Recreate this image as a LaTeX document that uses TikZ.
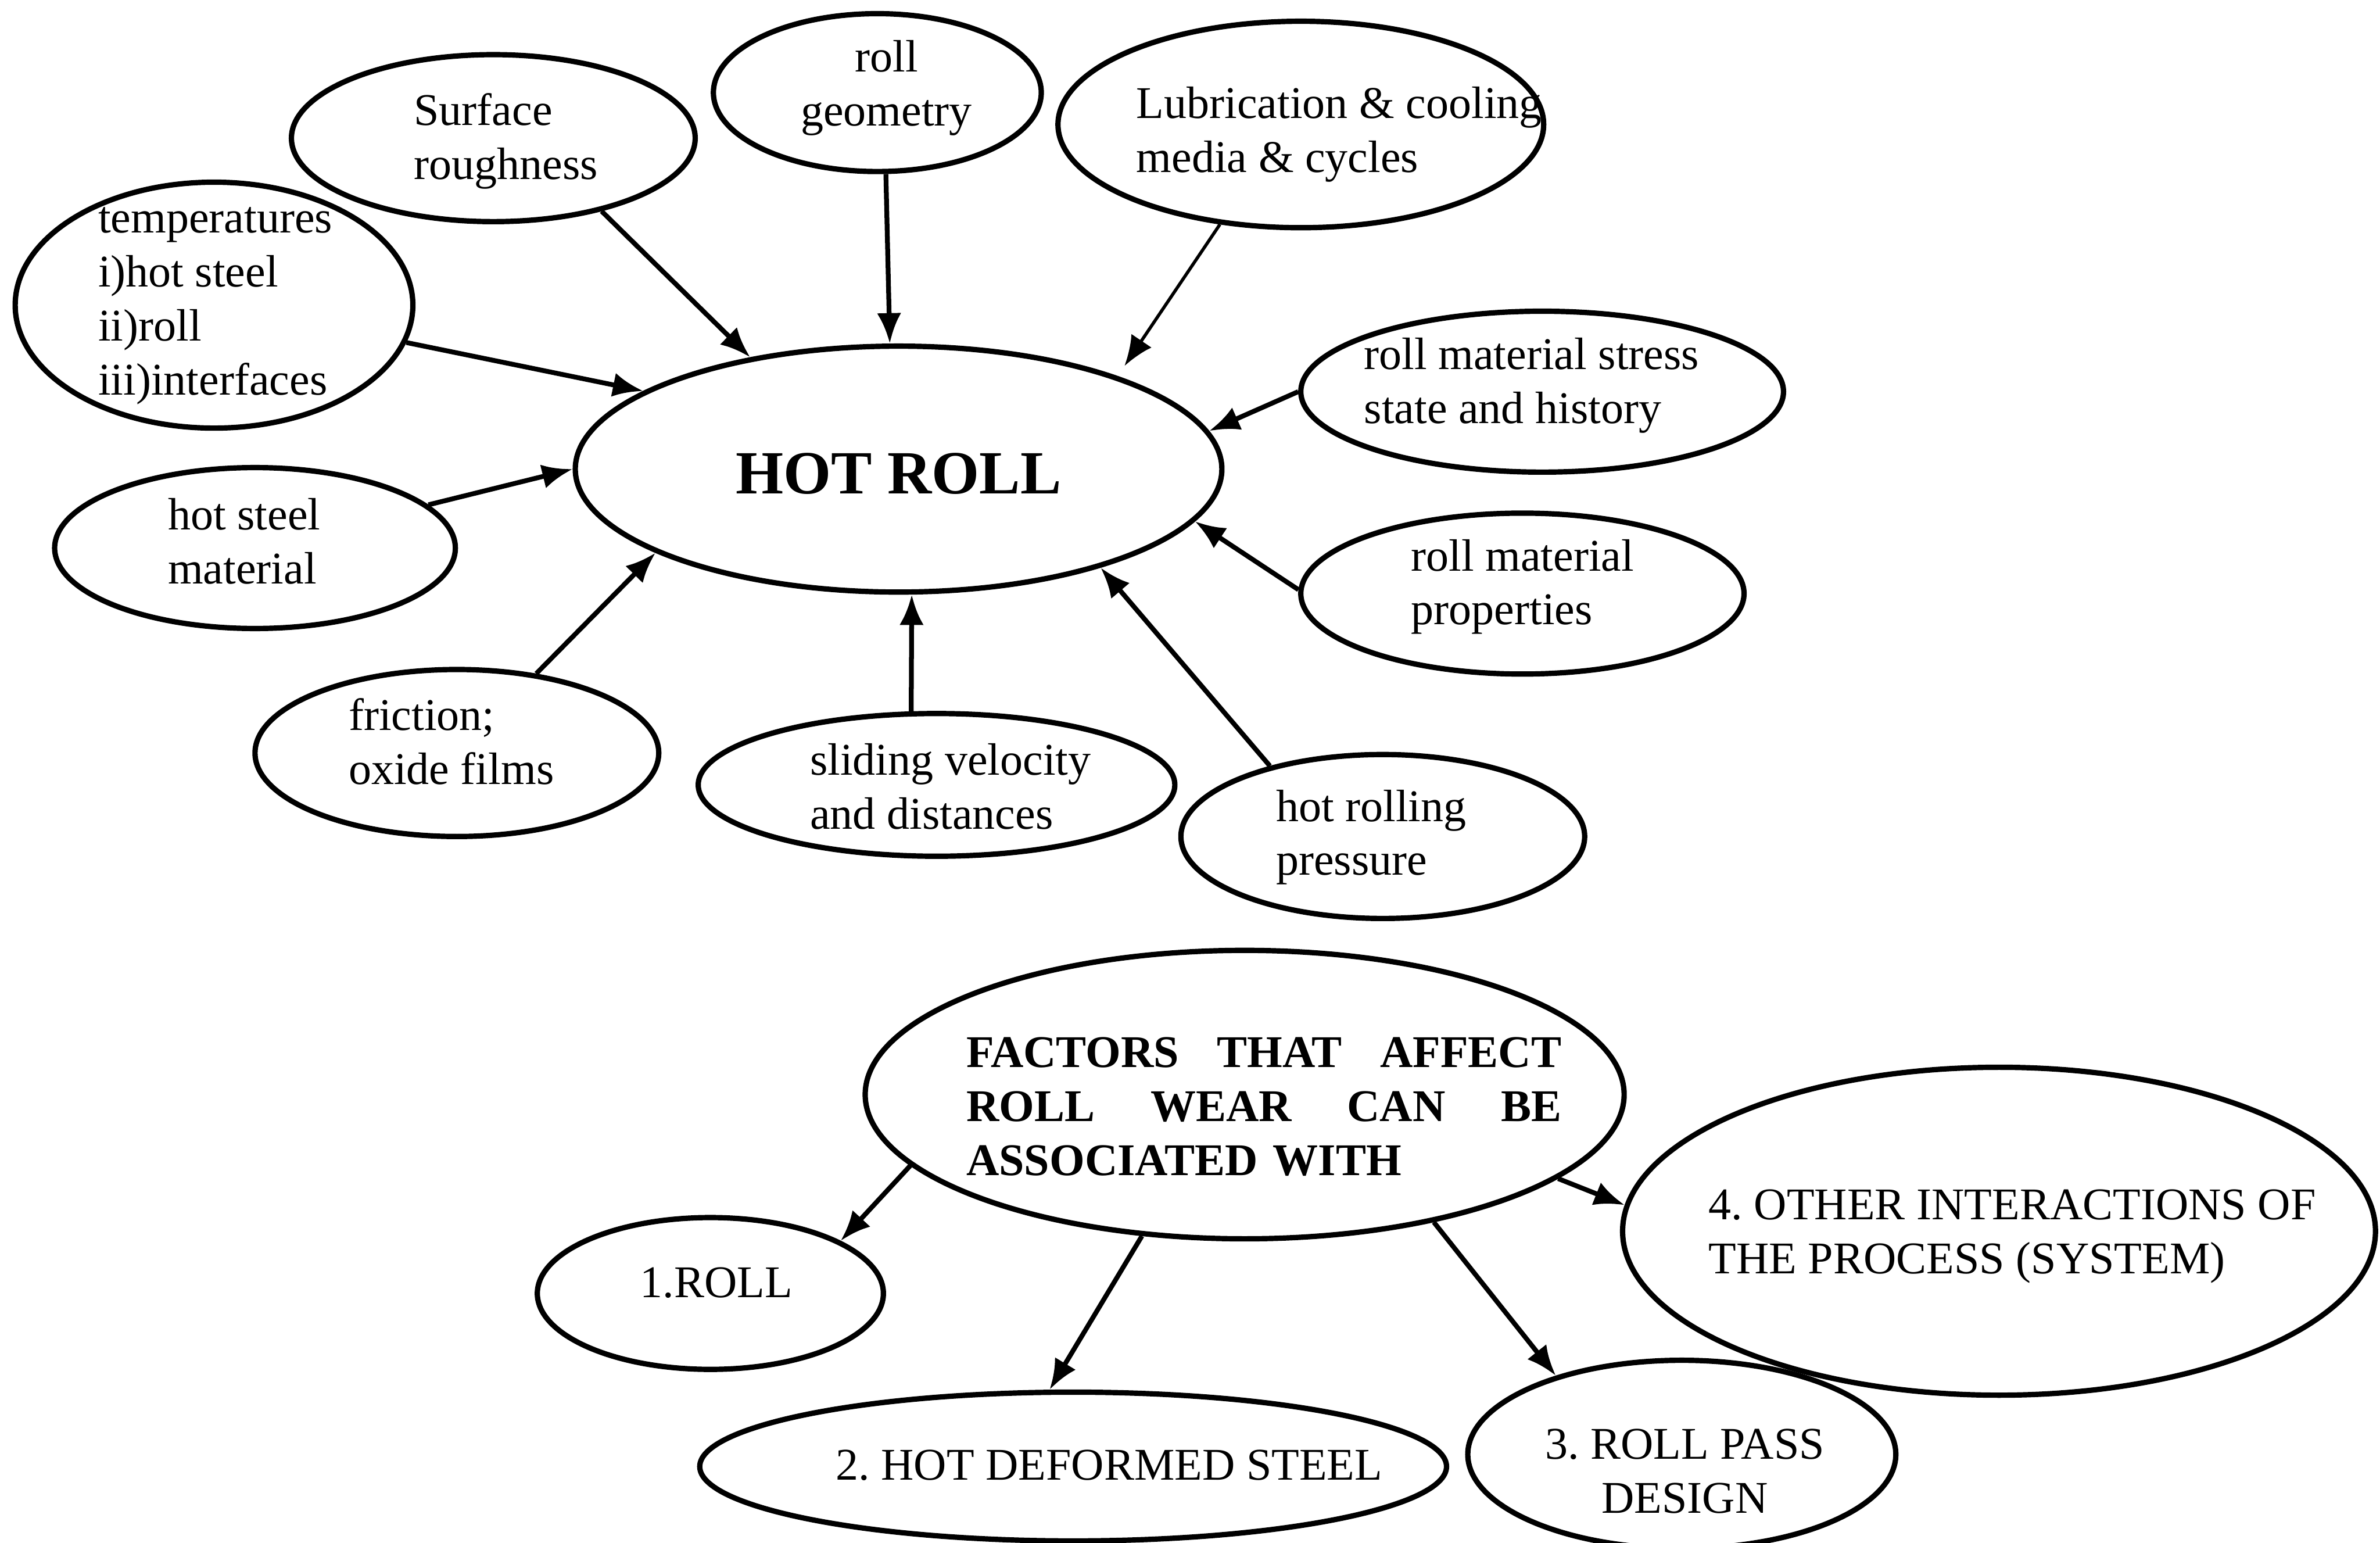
\documentclass[tikz,border=0pt]{standalone}
\usepackage{fontspec}
\setmainfont{Liberation Serif}
\usetikzlibrary{shapes.geometric, arrows.meta, positioning}

\begin{document}
\frenchspacing
\begin{tikzpicture}[font=\fontsize{8.5}{10.1}\selectfont]
    % 定义样式
    \tikzstyle{oval} = [ellipse, draw, line width=1pt, inner sep=0pt, align=center]
    \tikzstyle{txt} = [inner sep=0pt, align=left, anchor=west]
    \tikzstyle{arrow} = [line width=0.9pt, -{Latex[length=2mm,width=1.6mm]}]

    \path[use as bounding box, fill=white] (0,0) rectangle (15.68,10.16);

    % 上图: 椭圆
    \node (hot) [oval, minimum width=4.26cm, minimum height=1.62cm] at (5.92,7.07) {};
    \node (sr) [oval, minimum width=2.66cm, minimum height=1.10cm] at (3.25,9.25) {};
    \node (rg) [oval, minimum width=2.16cm, minimum height=1.04cm] at (5.78,9.55) {};
    \node (lub) [oval, minimum width=3.20cm, minimum height=1.36cm] at (8.57,9.34) {};
    \node (temp) [oval, minimum width=2.62cm, minimum height=1.62cm] at (1.41,8.15) {};
    \node (hsm) [oval, minimum width=2.64cm, minimum height=1.06cm] at (1.68,6.55) {};
    \node (fric) [oval, minimum width=2.66cm, minimum height=1.10cm] at (3.01,5.20) {};
    \node (slid) [oval, minimum width=3.14cm, minimum height=0.94cm] at (6.17,4.99) {};
    \node (hrp) [oval, minimum width=2.66cm, minimum height=1.08cm] at (9.11,4.65) {};
    \node (rmp) [oval, minimum width=2.92cm, minimum height=1.06cm] at (10.03,6.25) {};
    \node (rms) [oval, minimum width=3.18cm, minimum height=1.06cm] at (10.16,7.58) {};

    % 上图: 文字
    \node (hott) [inner sep=0pt, font=\fontsize{11.5}{13}\selectfont\bfseries] at (5.92,7.04) {HOT ROLL};
    \node (srt) [txt] at (2.72,9.23) {Surface\\roughness};
    \node (rgt) [inner sep=0pt, align=center] at (5.84,9.58) {roll\\geometry};
    \node (lubt) [txt] at (7.48,9.275) {Lubrication \& cooling\\media \& cycles};
    \node (tempt) [txt] at (0.64,8.145) {temperatures\\i)hot steel\\ii)roll\\iii)interfaces};
    \node (hsmt) [txt] at (1.10,6.595) {hot steel\\material};
    \node (frict) [txt] at (2.29,5.275) {friction;\\oxide films};
    \node (slidt) [txt] at (5.33,4.98) {sliding velocity\\and distances};
    \node (hrpt) [txt] at (8.40,4.645) {hot rolling\\pressure};
    \node (rmpt) [txt] at (9.29,6.295) {roll material\\properties};
    \node (rmst) [txt] at (8.98,7.62) {roll material stress\\state and history};

    % 上图: 连接线
    \draw [arrow] (sr.-34) -- (hot.143);
    \draw [arrow] (rg.-84) -- (hot.94);
    \draw [arrow, line width=0.6pt, shorten >=0.08cm] (lub.-129) -- (hot.23);
    \draw [arrow] (temp.-11) -- (hot.163);
    \draw [arrow] (hsm.14) -- (hot.180);
    \draw [arrow] (fric.45) -- (hot.-161);
    \draw [arrow] (slid.109) -- (hot.-84);
    \draw [arrow] (hrp.148) -- (hot.-26);
    \draw [arrow] (rmp.179) -- (hot.-10);
    \draw [arrow] (rms.180) -- (hot.7);

    % 下图: 椭圆
    \node (fac) [oval, minimum width=5.00cm, minimum height=1.90cm] at (8.20,2.95) {};
    \node (r1) [oval, minimum width=2.28cm, minimum height=1.00cm] at (4.68,1.64) {};
    \node (r2) [oval, minimum width=4.92cm, minimum height=0.98cm] at (7.07,0.50) {};
    \node (r3) [oval, minimum width=2.82cm, minimum height=1.24cm] at (11.08,0.58) {};
    \node (r4) [oval, minimum width=4.96cm, minimum height=2.16cm] at (13.17,2.05) {};

    % 下图: 文字
    \node (fact) [txt, text width=3.92cm, font=\fontsize{8.5}{10.1}\selectfont\bfseries] at (6.36,2.87)
        {FACTORS\hfill THAT\hfill AFFECT\\ROLL\hfill WEAR\hfill CAN\hfill BE\\ASSOCIATED WITH};
    \node (r1t) [inner sep=0pt] at (4.72,1.71) {1.ROLL};
    \node (r2t) [txt] at (5.50,0.51) {2. HOT DEFORMED STEEL};
    \node (r3t) [inner sep=0pt, align=center] at (11.10,0.47) {3. ROLL PASS\\DESIGN};
    \node (r4t) [txt] at (11.25,2.015) {4. OTHER INTERACTIONS OF\\THE PROCESS (SYSTEM)};

    % 下图: 连接线
    \draw [arrow] (fac.192) -- (r1.22);
    \draw [arrow] (fac.-126) -- (r2.107);
    \draw [arrow] (fac.-34) -- (r3.148);
    \draw [arrow] (fac.-15) -- (r4.176);
\end{tikzpicture}
\end{document}
